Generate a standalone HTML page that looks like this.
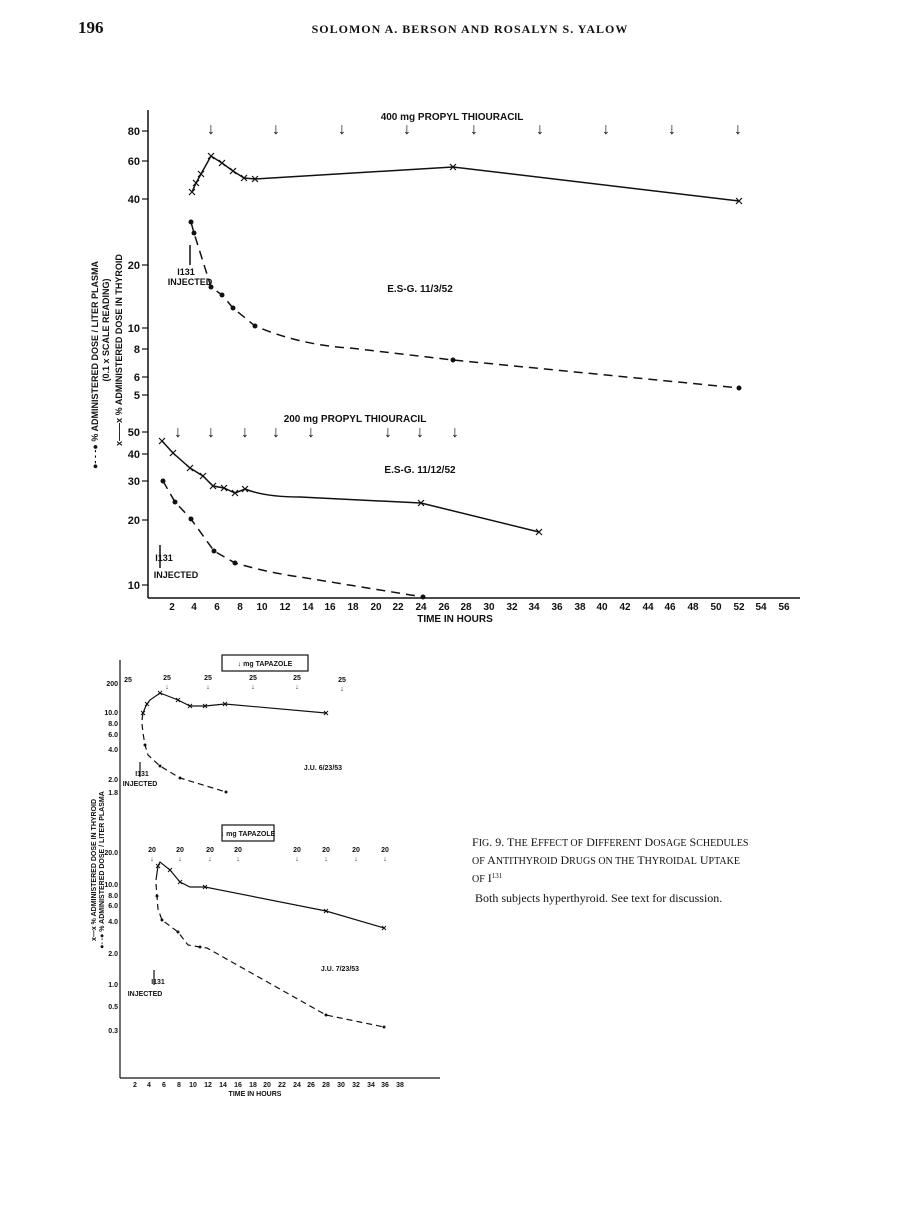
<!DOCTYPE html>
<html><head><meta charset="utf-8"><style>
body{margin:0;background:#fff;}
svg{display:block;font-family:"Liberation Sans",sans-serif;}
.s{font-family:"Liberation Serif",serif;}
</style></head><body>
<svg width="898" height="1215" viewBox="0 0 898 1215" xmlns="http://www.w3.org/2000/svg">
<defs><path id="x" d="M-3,-3 L3,3 M-3,3 L3,-3" stroke="#111" stroke-width="1.2"/><path id="xs" d="M-2,-2 L2,2 M-2,2 L2,-2" stroke="#111" stroke-width="1"/></defs>
<rect width="898" height="1215" fill="#fff"/>
<g fill="#111">
<text x="78" y="33" class="s" font-size="17" font-weight="bold">196</text>
<text x="470" y="33" class="s" font-size="12" font-weight="bold" text-anchor="middle" letter-spacing="1">SOLOMON A. BERSON AND ROSALYN S. YALOW</text>
</g>
<g stroke="#111" fill="none" stroke-width="1.5">
<line x1="148" y1="110" x2="148" y2="598"/>
<line x1="148" y1="598" x2="800" y2="598"/>
<g stroke-width="1.2">
<line x1="142" y1="131" x2="148" y2="131"/><line x1="142" y1="161" x2="148" y2="161"/><line x1="142" y1="199" x2="148" y2="199"/><line x1="142" y1="265" x2="148" y2="265"/><line x1="142" y1="328" x2="148" y2="328"/><line x1="142" y1="349" x2="148" y2="349"/><line x1="142" y1="377" x2="148" y2="377"/><line x1="142" y1="395" x2="148" y2="395"/><line x1="142" y1="432" x2="148" y2="432"/><line x1="142" y1="454" x2="148" y2="454"/><line x1="142" y1="481" x2="148" y2="481"/><line x1="142" y1="520" x2="148" y2="520"/><line x1="142" y1="585" x2="148" y2="585"/>
</g>
<polyline points="192,192 196,183 201,174 211,156 222,163 233,171 244,178 255,179 453,167 739,201"/>
<path d="M191,222 L194,233 L211,287 L222,295 L233,308 L255,326 Q300,345 350,348 L453,360 L739,388" stroke-dasharray="9,6"/>
<path d="M162,441 L173,453 L190,468 L203,476 L213,486 L224,488 L235,493 L245,489 Q265,497 300,497 L421,503 L539,532"/>
<path d="M163,481 L175,502 L191,519 L214,551 L235,563 Q270,573 300,577 L423,597" stroke-dasharray="9,6"/>
<line x1="190" y1="265" x2="190" y2="245"/><line x1="160" y1="568" x2="160" y2="545"/>
</g>
<g>
<use href="#x" x="192" y="192"/><use href="#x" x="196" y="183"/><use href="#x" x="201" y="174"/><use href="#x" x="211" y="156"/><use href="#x" x="222" y="163"/><use href="#x" x="233" y="171"/><use href="#x" x="244" y="178"/><use href="#x" x="255" y="179"/><use href="#x" x="453" y="167"/><use href="#x" x="739" y="201"/>
<use href="#x" x="162" y="441"/><use href="#x" x="173" y="453"/><use href="#x" x="190" y="468"/><use href="#x" x="203" y="476"/><use href="#x" x="213" y="486"/><use href="#x" x="224" y="488"/><use href="#x" x="235" y="493"/><use href="#x" x="245" y="489"/><use href="#x" x="421" y="503"/><use href="#x" x="539" y="532"/>
</g>
<g fill="#111">
<circle cx="191" cy="222" r="2.5"/><circle cx="194" cy="233" r="2.5"/><circle cx="211" cy="287" r="2.5"/><circle cx="222" cy="295" r="2.5"/><circle cx="233" cy="308" r="2.5"/><circle cx="255" cy="326" r="2.5"/><circle cx="453" cy="360" r="2.5"/><circle cx="739" cy="388" r="2.5"/>
<circle cx="163" cy="481" r="2.5"/><circle cx="175" cy="502" r="2.5"/><circle cx="191" cy="519" r="2.5"/><circle cx="214" cy="551" r="2.5"/><circle cx="235" cy="563" r="2.5"/><circle cx="423" cy="597" r="2.5"/>
</g>
<g font-size="11" fill="#111" font-weight="bold" text-anchor="end">
<text x="140" y="135">80</text><text x="140" y="165">60</text><text x="140" y="203">40</text><text x="140" y="269">20</text><text x="140" y="332">10</text><text x="140" y="353">8</text><text x="140" y="381">6</text><text x="140" y="399">5</text>
<text x="140" y="436">50</text><text x="140" y="458">40</text><text x="140" y="485">30</text><text x="140" y="524">20</text><text x="140" y="589">10</text>
</g>
<g font-size="10" fill="#111" font-weight="bold" text-anchor="middle">
<text x="172" y="610">2</text><text x="194" y="610">4</text><text x="217" y="610">6</text><text x="240" y="610">8</text><text x="262" y="610">10</text><text x="285" y="610">12</text><text x="308" y="610">14</text><text x="330" y="610">16</text><text x="353" y="610">18</text><text x="376" y="610">20</text><text x="398" y="610">22</text><text x="421" y="610">24</text><text x="444" y="610">26</text><text x="466" y="610">28</text><text x="489" y="610">30</text><text x="512" y="610">32</text><text x="534" y="610">34</text><text x="557" y="610">36</text><text x="580" y="610">38</text><text x="602" y="610">40</text><text x="625" y="610">42</text><text x="648" y="610">44</text><text x="670" y="610">46</text><text x="693" y="610">48</text><text x="716" y="610">50</text><text x="739" y="610">52</text><text x="761" y="610">54</text><text x="784" y="610">56</text>
<text x="455" y="622">TIME IN HOURS</text>
<text x="452" y="120">400 mg PROPYL THIOURACIL</text>
<text x="355" y="422">200 mg PROPYL THIOURACIL</text>
<text x="420" y="292">E.S-G. 11/3/52</text>
<text x="420" y="473">E.S-G. 11/12/52</text>
<text x="190" y="285" font-size="9">INJECTED</text>
<text x="186" y="275" font-size="9">I131</text>
<text x="176" y="578" font-size="9">INJECTED</text>
<text x="164" y="561" font-size="9">I131</text>
</g>
<g font-size="16" fill="#111" text-anchor="middle">
<text x="211" y="134">↓</text><text x="276" y="134">↓</text><text x="342" y="134">↓</text><text x="407" y="134">↓</text><text x="474" y="134">↓</text><text x="540" y="134">↓</text><text x="606" y="134">↓</text><text x="672" y="134">↓</text><text x="738" y="134">↓</text>
<text x="178" y="437">↓</text><text x="211" y="437">↓</text><text x="245" y="437">↓</text><text x="276" y="437">↓</text><text x="311" y="437">↓</text><text x="388" y="437">↓</text><text x="420" y="437">↓</text><text x="455" y="437">↓</text>
</g>
<g font-size="9" fill="#111" font-weight="bold" text-anchor="middle">
<text transform="translate(98,365) rotate(-90)">●- - -● % ADMINISTERED DOSE / LITER PLASMA</text>
<text transform="translate(109,330) rotate(-90)">(0.1 x SCALE READING)</text>
<text transform="translate(122,350) rotate(-90)">x——x % ADMINISTERED DOSE IN THYROID</text>
</g>
<g stroke="#111" fill="none" stroke-width="1.2">
<line x1="120" y1="660" x2="120" y2="1078"/>
<line x1="120" y1="1078" x2="440" y2="1078"/>
<rect x="222" y="655" width="86" height="16"/>
<rect x="222" y="825" width="52" height="16"/>
<polyline points="142,720 143,713 145,708 147,704 150,700 160,693 178,700 190,706 205,706 225,704 326,713"/>
<path d="M142,724 L143,733 L145,745 L148,755 L160,766 L180,778 L226,792" stroke-dasharray="6,4"/>
<polyline points="156,880 158,866 160,862 170,870 180,882 190,887 205,887 326,911 384,928"/>
<path d="M156,884 L157,896 L158,909 L162,920 L170,926 L178,932 L188,945 L200,947 L207,948 L326,1015 L384,1027" stroke-dasharray="6,4"/>
<line x1="140" y1="777" x2="140" y2="762"/><line x1="154" y1="985" x2="154" y2="970"/>
</g>
<g>
<use href="#xs" x="143" y="713"/><use href="#xs" x="147" y="704"/><use href="#xs" x="160" y="693"/><use href="#xs" x="178" y="700"/><use href="#xs" x="190" y="706"/><use href="#xs" x="205" y="706"/><use href="#xs" x="225" y="704"/><use href="#xs" x="326" y="713"/>
<use href="#xs" x="158" y="866"/><use href="#xs" x="170" y="870"/><use href="#xs" x="180" y="882"/><use href="#xs" x="205" y="887"/><use href="#xs" x="326" y="911"/><use href="#xs" x="384" y="928"/>
</g>
<g fill="#111">
<circle cx="145" cy="745" r="1.5"/><circle cx="160" cy="766" r="1.5"/><circle cx="180" cy="778" r="1.5"/><circle cx="226" cy="792" r="1.5"/>
<circle cx="157" cy="896" r="1.5"/><circle cx="162" cy="920" r="1.5"/><circle cx="178" cy="932" r="1.5"/><circle cx="200" cy="947" r="1.5"/><circle cx="326" cy="1015" r="1.5"/><circle cx="384" cy="1027" r="1.5"/>
</g>
<g font-size="7" fill="#111" font-weight="bold" text-anchor="middle">
<text x="135" y="1087">2</text><text x="149" y="1087">4</text><text x="164" y="1087">6</text><text x="179" y="1087">8</text><text x="193" y="1087">10</text><text x="208" y="1087">12</text><text x="223" y="1087">14</text><text x="238" y="1087">16</text><text x="253" y="1087">18</text><text x="267" y="1087">20</text><text x="282" y="1087">22</text><text x="297" y="1087">24</text><text x="311" y="1087">26</text><text x="326" y="1087">28</text><text x="341" y="1087">30</text><text x="356" y="1087">32</text><text x="371" y="1087">34</text><text x="385" y="1087">36</text><text x="400" y="1087">38</text>
<text x="255" y="1096">TIME IN HOURS</text>
<text x="265" y="666">↓ mg TAPAZOLE</text><text x="248" y="836">↓ mg TAPAZOLE</text>
<text x="323" y="770">J.U. 6/23/53</text><text x="340" y="971">J.U. 7/23/53</text>
<text x="140" y="786">INJECTED</text><text x="145" y="996">INJECTED</text>
<text x="142" y="776">I131</text><text x="158" y="984">I131</text>
<g text-anchor="end"><text x="118" y="686">200</text><text x="118" y="715">10.0</text><text x="118" y="726">8.0</text><text x="118" y="737">6.0</text><text x="118" y="752">4.0</text><text x="118" y="782">2.0</text><text x="118" y="795">1.8</text>
<text x="118" y="855">20.0</text><text x="118" y="887">10.0</text><text x="118" y="898">8.0</text><text x="118" y="908">6.0</text><text x="118" y="924">4.0</text><text x="118" y="956">2.0</text><text x="118" y="987">1.0</text><text x="118" y="1009">0.5</text><text x="118" y="1033">0.3</text></g>
<text x="128" y="682">25</text><text x="167" y="680">25</text><text x="208" y="680">25</text><text x="253" y="680">25</text><text x="297" y="680">25</text><text x="342" y="682">25</text>
<text x="167" y="689">↓</text><text x="208" y="689">↓</text><text x="253" y="689">↓</text><text x="297" y="689">↓</text><text x="342" y="691">↓</text>
<text x="152" y="852">20</text><text x="180" y="852">20</text><text x="210" y="852">20</text><text x="238" y="852">20</text><text x="297" y="852">20</text><text x="326" y="852">20</text><text x="356" y="852">20</text><text x="385" y="852">20</text>
<text x="152" y="861">↓</text><text x="180" y="861">↓</text><text x="210" y="861">↓</text><text x="238" y="861">↓</text><text x="297" y="861">↓</text><text x="326" y="861">↓</text><text x="356" y="861">↓</text><text x="385" y="861">↓</text>
<text transform="translate(96,870) rotate(-90)">x—x % ADMINISTERED DOSE IN THYROID</text>
<text transform="translate(104,870) rotate(-90)">●- -● % ADMINISTERED DOSE / LITER PLASMA</text>
</g>
<g class="s" fill="#111" font-size="12">
<text x="472" y="846">F<tspan font-size="10">IG</tspan>. 9.  T<tspan font-size="10">HE</tspan> E<tspan font-size="10">FFECT OF</tspan> D<tspan font-size="10">IFFERENT</tspan> D<tspan font-size="10">OSAGE</tspan> S<tspan font-size="10">CHEDULES</tspan></text>
<text x="472" y="864"><tspan font-size="10">OF</tspan> A<tspan font-size="10">NTITHYROID</tspan> D<tspan font-size="10">RUGS ON THE</tspan> T<tspan font-size="10">HYROIDAL</tspan> U<tspan font-size="10">PTAKE</tspan></text>
<text x="472" y="882"><tspan font-size="10">OF</tspan> I<tspan font-size="7" dy="-4">131</tspan></text>
<text x="475" y="902">Both subjects hyperthyroid.  See text for discussion.</text>
</g>
</svg>
</body></html>
